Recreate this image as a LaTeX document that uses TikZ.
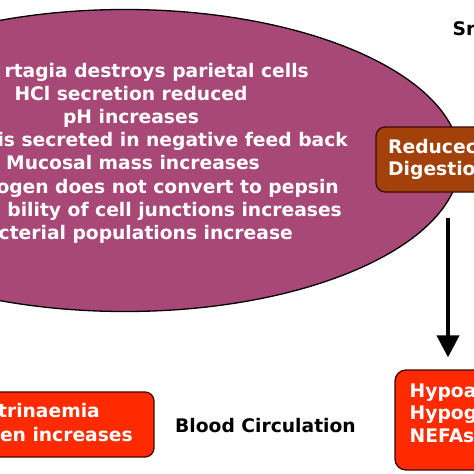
\documentclass[tikz,border=0pt]{standalone}
\usepackage{fontspec}
\setmainfont{DejaVu Sans}
\usetikzlibrary{arrows.meta,shapes.geometric}
\definecolor{plum}{RGB}{168,72,118}
\definecolor{rust}{RGB}{162,66,10}
\definecolor{redbox}{RGB}{255,42,0}
\definecolor{edge}{RGB}{60,10,0}
\begin{document}
\begin{tikzpicture}[x=1pt,y=-1pt,
  every node/.style={font=\fontsize{18.7}{22}\selectfont\bfseries, inner sep=0pt},
  wtxt/.style={text=white},
  btxt/.style={text=black},
  boxstyle/.style={draw=edge, line width=1.3pt, rounded corners=9pt},
  arr/.style={line width=4pt, -{Triangle[width=22pt,length=22pt]}}
]
\useasboundingbox (0,0) rectangle (474,474);
\clip (0,0) rectangle (474,474);
\fill[white] (0,0) rectangle (474,474);

% stomach ellipse
\node (stom) [ellipse, draw=black, line width=1.3pt, fill=plum,
  minimum width=670pt, minimum height=302pt] at (125,160.5) {};

\node (l1) [wtxt, anchor=base east] at (309,77) {rtagia destroys parietal cells};
\node (l2) [wtxt, anchor=base] at (131,100) {HCl secretion reduced};
\node (l3) [wtxt, anchor=base] at (131,123) {pH increases};
\node (l4) [wtxt, anchor=base east] at (348,146.5) {is secreted in negative feed back};
\node (l5) [wtxt, anchor=base] at (133,169.5) {Mucosal mass increases};
\node (l6) [wtxt, anchor=base east] at (339,193) {ogen does not convert to pepsin};
\node (l7) [wtxt, anchor=base east] at (342,216) {bility of cell junctions increases};
\node (l8) [wtxt, anchor=base east] at (293,239) {cterial populations increase};

% top right label
\node (si) [btxt, anchor=base west] at (452.5,35) {Sr};

% reduced digestion box
\node (dig) [boxstyle, fill=rust, minimum width=164pt, minimum height=65pt] at (458,159.5) {};
\node (dig1) [wtxt, anchor=base west] at (388,153) {Reducec};
\node (dig2) [wtxt, anchor=base west] at (388,175) {Digestio};

% hypo box
\node (hypo) [boxstyle, fill=redbox, rounded corners=11pt, minimum width=165pt, minimum height=100pt] at (477.5,420) {};
\node (h1) [wtxt, anchor=base west] at (409.5,397) {Hypoa};
\node (h2) [wtxt, anchor=base west] at (409.5,419.5) {Hypog};
\node (h3) [wtxt, anchor=base west] at (409.5,442) {NEFAs};

% left box
\node (gas) [boxstyle, fill=redbox, minimum width=214pt, minimum height=65pt] at (47,424.5) {};
\node (g1) [wtxt, anchor=base east] at (100,417) {trinaemia};
\node (g2) [wtxt, anchor=base east] at (133,441.5) {en increases};

% blood circulation
\node (blood) [btxt, anchor=base west] at (175,432) {Blood Circulation};

% arrow
\coordinate (as) at (448,218);
\draw[arr] (as) -- ([yshift=12pt]hypo.north -| as);
\end{tikzpicture}
\end{document}
